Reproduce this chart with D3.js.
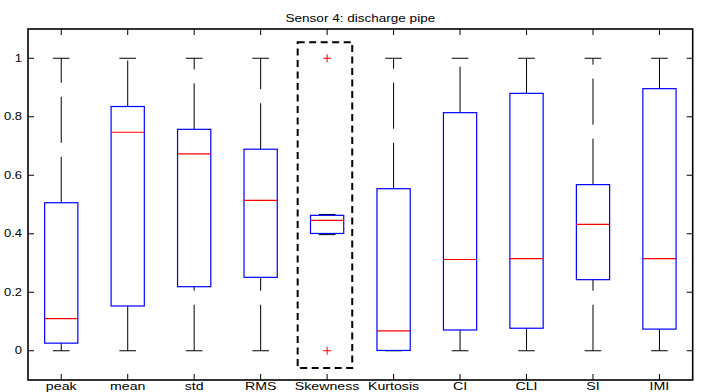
<!DOCTYPE html>
<html>
<head>
<meta charset="utf-8">
<script src="https://cdn.jsdelivr.net/npm/d3@7"></script>
<style>
  body { margin: 0; background: #fff; }
  svg { display: block; }
  text { font-family: "Liberation Sans", Arial, sans-serif; fill: #000; }
</style>
</head>
<body>
<svg id="chart" width="704" height="392"></svg>
<script>
// box statistics per feature
var categories = ["peak", "mean", "std", "RMS", "Skewness", "Kurtosis", "CI", "CLI", "SI", "IMI"];
var lowerWhisker = [0, 0, 0, 0, 0.397, 0, 0, 0, 0, 0];
var q1 = [0.026, 0.153, 0.219, 0.251, 0.401, 0.001, 0.071, 0.077, 0.243, 0.074];
var medians = [0.110, 0.747, 0.673, 0.514, 0.446, 0.068, 0.312, 0.315, 0.432, 0.315];
var q3 = [0.506, 0.835, 0.757, 0.689, 0.463, 0.554, 0.814, 0.880, 0.568, 0.896];
var upperWhisker = [1, 1, 1, 1, 0.466, 1, 1, 1, 1, 1];
var outliers = [{ cat: 4, value: 1 }, { cat: 4, value: 0 }];
var yTicks = [0, 0.2, 0.4, 0.6, 0.8, 1];
var title = "Sensor 4: discharge pipe";

var margin = { left: 28, right: 11.3, top: 29, bottom: 12 };
var W = 704, H = 392;
var svg = d3.select("#chart");

var x = d3.scaleLinear().domain([0.5, 10.5]).range([margin.left, W - margin.right]);
var y = d3.scaleLinear().domain([-0.1, 1.1]).range([H - margin.bottom, margin.top]);

var boxHalf = 0.25, capHalf = 0.125;

var boxes = categories.map(function(c, i) {
    return { i: i + 1, lo: lowerWhisker[i], q1: q1[i], med: medians[i], q3: q3[i], hi: upperWhisker[i] };
});

//whiskers (drawn from lower value upward so the dash starts at cap / box)
var g = svg.append("g");
boxes.forEach(function(d) {
    g.append("line")
        .attr("x1", x(d.i)).attr("x2", x(d.i))
        .attr("y1", y(d.q3)).attr("y2", y(d.hi))
        .attr("stroke", "#000").attr("stroke-dasharray", "46,14");
    g.append("line")
        .attr("x1", x(d.i)).attr("x2", x(d.i))
        .attr("y1", y(d.lo)).attr("y2", y(d.q1))
        .attr("stroke", "#000").attr("stroke-dasharray", "46,14");
    [d.lo, d.hi].forEach(function(v) {
        g.append("line")
            .attr("x1", x(d.i - capHalf)).attr("x2", x(d.i + capHalf))
            .attr("y1", y(v)).attr("y2", y(v))
            .attr("stroke", "#000");
    });
});

//boxes
g.selectAll(".box")
    .data(boxes)
    .enter().append("rect")
    .attr("class", "box")
    .attr("x", function(d) { return x(d.i - boxHalf); })
    .attr("y", function(d) { return y(d.q3); })
    .attr("width", function(d) { return x(d.i + boxHalf) - x(d.i - boxHalf); })
    .attr("height", function(d) { return y(d.q1) - y(d.q3); })
    .attr("fill", "none")
    .attr("stroke", "#0000ff")
    .attr("stroke-width", 1.2);

//medians
g.selectAll(".median")
    .data(boxes)
    .enter().append("line")
    .attr("class", "median")
    .attr("x1", function(d) { return x(d.i - boxHalf); })
    .attr("x2", function(d) { return x(d.i + boxHalf); })
    .attr("y1", function(d) { return y(d.med); })
    .attr("y2", function(d) { return y(d.med); })
    .attr("stroke", "#ff0000")
    .attr("stroke-width", 1.2);

//outliers as red plus signs
g.selectAll(".outlier")
    .data(outliers)
    .enter().append("path")
    .attr("class", "outlier")
    .attr("d", function(d) {
        var cx = x(d.cat + 1), cy = y(d.value), r = 4;
        return "M" + (cx - r) + " " + cy + "H" + (cx + r) + "M" + cx + " " + (cy - r) + "V" + (cy + r);
    })
    .attr("stroke", "#ff0000")
    .attr("fill", "none");

//dashed highlight around Skewness
svg.append("rect")
    .attr("x", x(4.557)).attr("y", y(1.055))
    .attr("width", x(5.378) - x(4.557))
    .attr("height", y(-0.059) - y(1.055))
    .attr("fill", "none")
    .attr("stroke", "#000")
    .attr("stroke-width", 2)
    .attr("stroke-dasharray", "7,4.5");

//axes
var tickLen = 6;
var x0 = x.range()[0], x1 = x.range()[1], y0 = y.range()[0], y1 = y.range()[1];
var axes = svg.append("g").attr("stroke", "#000").attr("stroke-width", 1);

yTicks.forEach(function(t) {
    axes.append("line").attr("x1", x0).attr("x2", x0 + tickLen).attr("y1", y(t)).attr("y2", y(t));
    axes.append("line").attr("x1", x1).attr("x2", x1 - tickLen).attr("y1", y(t)).attr("y2", y(t));
});
categories.forEach(function(c, i) {
    axes.append("line").attr("x1", x(i + 1)).attr("x2", x(i + 1)).attr("y1", y0).attr("y2", y0 - tickLen);
    axes.append("line").attr("x1", x(i + 1)).attr("x2", x(i + 1)).attr("y1", y1).attr("y2", y1 + tickLen);
});

svg.append("rect")
    .attr("x", x0).attr("y", y1)
    .attr("width", x1 - x0).attr("height", y0 - y1)
    .attr("fill", "none")
    .attr("stroke", "#000")
    .attr("stroke-width", 1.6);

//tick labels
svg.selectAll(".ylab")
    .data(yTicks)
    .enter().append("text")
    .attr("class", "ylab")
    .attr("transform", function(d) { return "translate(22," + (y(d) + 3.5) + ") scale(1.3,1)"; })
    .attr("text-anchor", "end")
    .style("font-size", "10px")
    .text(function(d) { return d3.format("")(d); });

svg.selectAll(".xlab")
    .data(categories)
    .enter().append("text")
    .attr("class", "xlab")
    .attr("transform", function(d, i) { return "translate(" + x(i + 1) + ",389.5) scale(1.29,1)"; })
    .attr("text-anchor", "middle")
    .style("font-size", "11px")
    .text(function(d) { return d; });

svg.append("text")
    .attr("transform", "translate(" + ((x0 + x1) / 2) + ",22) scale(1.23,1)")
    .attr("text-anchor", "middle")
    .style("font-size", "11px")
    .text(title);
</script>
</body>
</html>
